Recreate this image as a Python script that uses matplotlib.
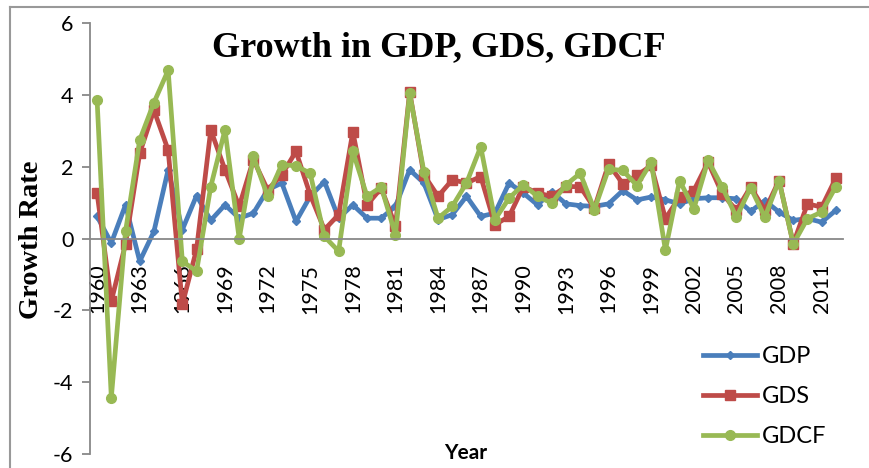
import matplotlib.pyplot as plt
from matplotlib.lines import Line2D

plt.rcParams['axes.unicode_minus'] = False

years = list(range(1960, 2013))

gdp = [0.62, -0.12, 0.94, -0.63, 0.2, 1.92, 0.25, 1.2, 0.51, 0.94,
       0.57, 0.71, 1.36, 1.55, 0.48, 1.18, 1.59, 0.57, 0.94, 0.57,
       0.57, 0.9, 1.92, 1.55, 0.53, 0.67, 1.18, 0.62, 0.71, 1.55,
       1.27, 0.94, 1.31, 0.97, 0.92, 0.9, 0.97, 1.34, 1.08, 1.16,
       1.08, 0.97, 1.11, 1.14, 1.14, 1.11, 0.76, 1.06, 0.74, 0.51,
       0.56, 0.46, 0.79]

gds = [1.27, -1.74, -0.15, 2.38, 3.58, 2.47, -1.83, -0.3, 3.03, 1.92,
       0.9, 2.2, 1.36, 1.78, 2.43, 1.22, 0.25, 0.67, 2.98, 0.94,
       1.41, 0.35, 4.09, 1.78, 1.18, 1.64, 1.55, 1.73, 0.39, 0.62,
       1.45, 1.27, 1.18, 1.45, 1.45, 0.85, 2.08, 1.53, 1.76, 2.04,
       0.56, 1.16, 1.34, 2.13, 1.25, 0.79, 1.44, 0.79, 1.62, -0.14,
       0.97, 0.88, 1.69]

gdcf = [3.86, -4.43, 0.2, 2.75, 3.79, 4.69, -0.63, -0.91, 1.45, 3.03,
        0.0, 2.29, 1.18, 2.06, 2.03, 1.82, 0.06, -0.35, 2.43, 1.18,
        1.44, 0.11, 4.05, 1.87, 0.57, 0.9, 1.55, 2.56, 0.53, 1.13,
        1.5, 1.18, 0.99, 1.5, 1.82, 0.81, 1.94, 1.9, 1.48, 2.13,
        -0.32, 1.62, 0.83, 2.18, 1.44, 0.6, 1.42, 0.6, 1.62, -0.15,
        0.56, 0.74, 1.45]

W, H = 870, 468
fig = plt.figure(figsize=(8.7, 4.68), dpi=100)
ax = fig.add_axes([90 / W, 1 - 454 / H, 753 / W, (454 - 23.3) / H])

x = list(range(len(years)))
ax.plot(x, gdp, color='#4A7EBB', lw=3.4, marker='D', ms=4.5, label='GDP')
ax.plot(x, gds, color='#BE4B48', lw=3.4, marker='s', ms=7, label='GDS')
ax.plot(x, gdcf, color='#98B954', lw=3.4, marker='o', ms=7, label='GDCF')

for s in ['top', 'right']:
    ax.spines[s].set_visible(False)
ax.spines['bottom'].set_position(('data', 0))
ax.spines['bottom'].set_color('#888888')
ax.spines['bottom'].set_linewidth(1.3)
ax.spines['left'].set_color('#888888')
ax.spines['left'].set_linewidth(1.3)

ax.set_xlim(-0.5, len(years) - 0.5)
ax.set_ylim(-6, 6)
ax.set_yticks([-6, -4, -2, 0, 2, 4, 6])
ax.set_xticks(x[::3])
ax.set_xticklabels([str(y) for y in years[::3]])
ax.tick_params(axis='x', length=0, pad=18, labelsize=15.5, labelrotation=90)
ax.tick_params(axis='y', length=6, width=1.3, color='#888888', pad=6, labelsize=15.5)
for lab in ax.get_xticklabels() + ax.get_yticklabels():
    lab.set_family('Lato')

fig.text(439 / W, 1 - 48 / H, 'Growth in GDP, GDS, GDCF', ha='center', va='center',
         family='Liberation Serif', weight='bold', size=26)
fig.text(32 / W, 1 - 240 / H, 'Growth Rate', ha='center', va='center', rotation=90,
         family='Liberation Serif', weight='bold', size=20.5)
fig.text(466 / W, 1 - 453 / H, 'Year', ha='center', va='center',
         family='Lato', weight='bold', size=15)

fig.legend(loc='upper left', bbox_to_anchor=(703 / W, 1 - 346 / H), frameon=False,
           prop={'family': 'Lato', 'size': 17}, handlelength=2.3, handletextpad=0.2,
           labelspacing=0.8, borderpad=0, borderaxespad=0)

# border of the chart area
fig.add_artist(Line2D([10 / W, 1], [1 - 7 / H, 1 - 7 / H], color='#999999', lw=1.5))
fig.add_artist(Line2D([10 / W, 10 / W], [0, 1 - 7 / H], color='#999999', lw=1.5))

fig.savefig('out.png', dpi=100)
